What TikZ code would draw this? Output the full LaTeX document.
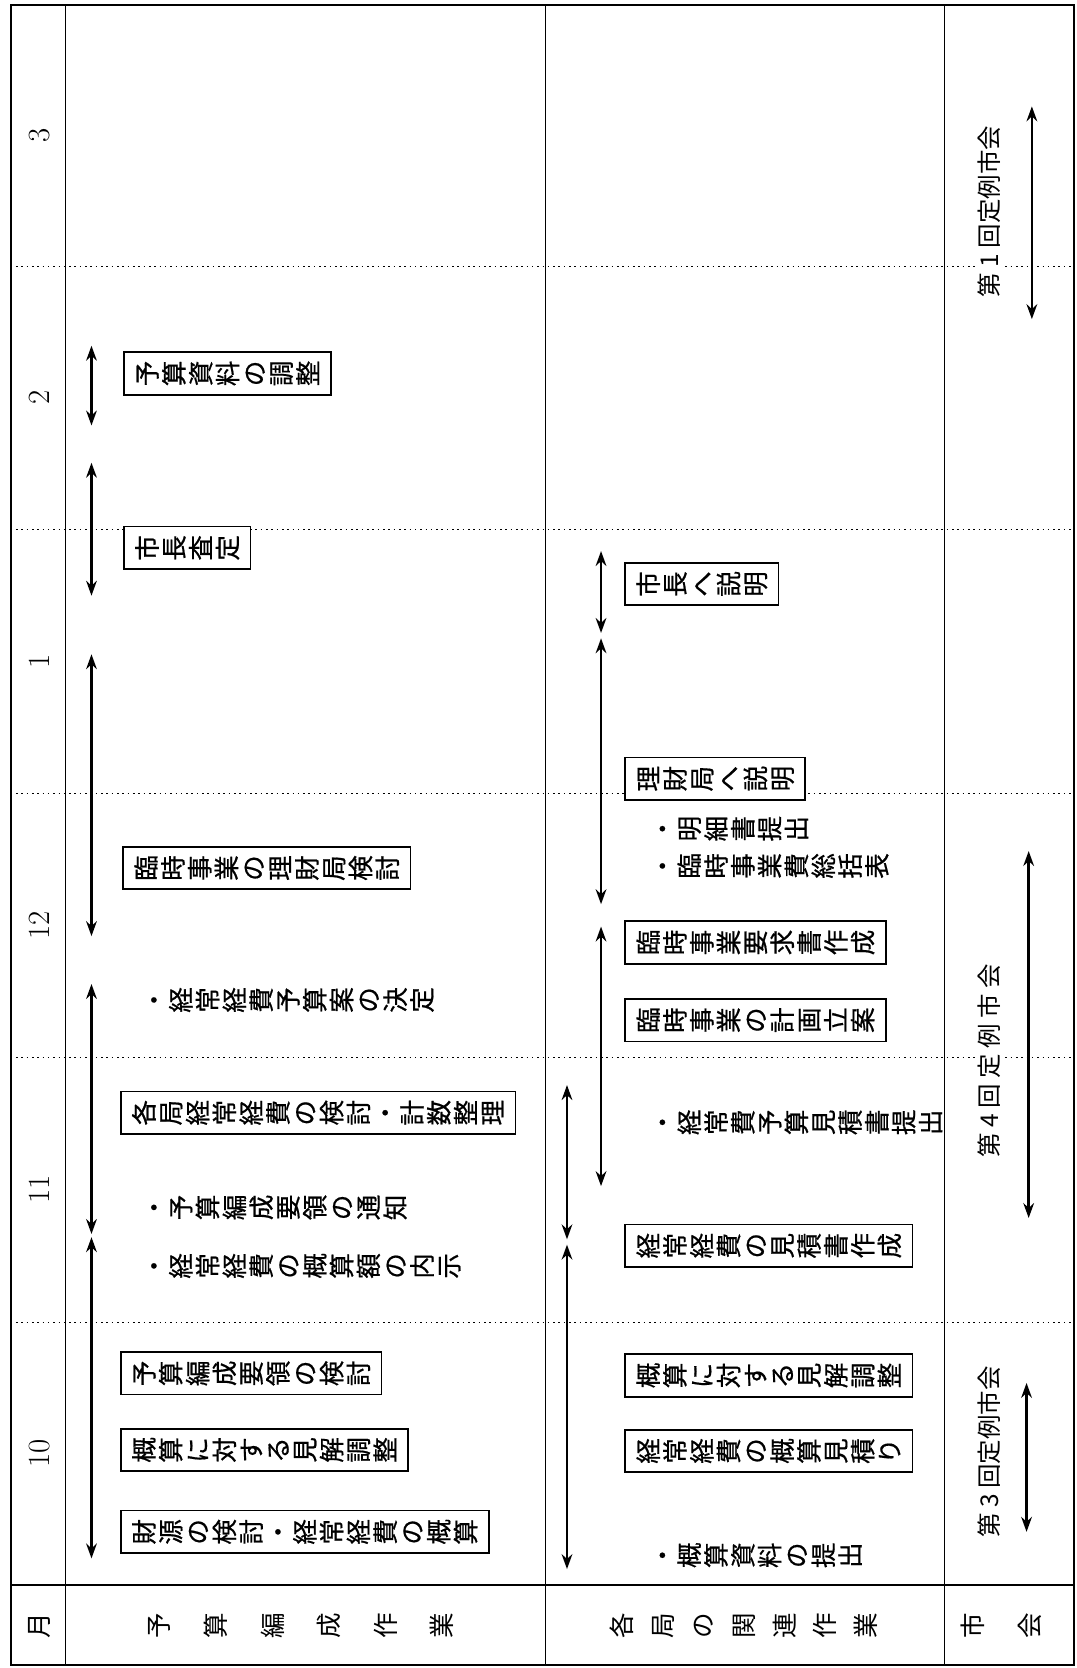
\documentclass[tikz,border=0pt]{standalone}
\usepackage{fontspec}
\usepackage{graphicx}
\usetikzlibrary{arrows.meta}
\newfontfamily\jpfont[FakeBold=0.6]{Noto Sans CJK JP}
\newfontfamily\jpthin{Noto Sans CJK JP}

% one character turned a quarter to the left
\newcommand{\tchar}[1]{\rotatebox{90}{\makebox[1em]{\raisebox{0pt}[0.9em][0.15em]{#1}}}}
% a row of turned characters, optional gap between them
\newcommand{\tate}[2][0pt]{\def\tgap{\hspace{#1}}\let\tsep\relax\tloop#2\relax}
\def\tloop#1{\ifx\relax#1\else\tsep\tchar{#1}\let\tsep\tgap\expandafter\tloop\fi}

\begin{document}
\begin{tikzpicture}[x=1pt, y=-1pt,
  box/.style={draw, line width=1.6pt, fill=white, inner xsep=9pt, inner ysep=8pt,
    anchor=west, font=\jpfont\fontsize{24}{28}\selectfont},
  note/.style={inner sep=0pt, anchor=west, font=\jpfont\fontsize{24}{28}\selectfont},
  head/.style={inner sep=0pt, anchor=west, font=\jpthin\fontsize{24}{28}\selectfont},
  month/.style={rotate=90, font=\fontsize{29}{32}\selectfont},
  council/.style={rotate=90, fill=white, inner sep=1pt, font=\jpthin\fontsize{23}{26}\selectfont},
  span/.style={line width=2.4pt, {Stealth[length=14pt,width=10pt]}-{Stealth[length=14pt,width=10pt]}},
  grid/.style={line width=0.8pt, dash pattern=on 1.5pt off 3.5pt}]
  \useasboundingbox (0,0) rectangle (1012,1568);

  % month rows
  \foreach \y in {250,498,746,994,1243}
    \draw[grid] (10,\y) -- (1010,\y);
  \draw[line width=2pt] (10,5) rectangle (1010,1565);
  \foreach \x in {62,513,888}
    \draw[line width=1pt] (\x,5) -- (\x,1565);
  \draw[line width=1.5pt] (10,1490) -- (1010,1490);

  \foreach \m/\y in {3/127, 2/374, 1/622, 12/870, 11/1118, 10/1366}
    \node[month] (month\m) at (37,\y) {\m};

  % header row
  \node[head, anchor=center] (hmonth) at (37,1528) {\tchar{月}};
  \node[head] (hbudget) at (137,1528) {\tate[28pt]{予算編成作業}};
  \node[head] (hbureau) at (572,1528) {\tate[13pt]{各局の関連作業}};
  \node[head] (hcouncil) at (902,1528) {\tate[28pt]{市会}};

  % spans: name / x / top / bottom
  \foreach \n/\x/\ya/\yb in {b1/86/325/400, b2/86/435/560, b3/86/615/880,
      b4/86/925/1160, b5/86/1163/1465,
      a1/565/518/595, a2/565/600/850, a3/565/871/1115,
      a4/533/1020/1165, a5/533/1170/1475,
      c1/970/100/300, c2/967/800/1145, c3/965/1300/1440} {
    \coordinate (\n top) at (\x,\ya);
    \coordinate (\n bot) at (\x,\yb);
    \draw[span] (\n top) -- (\n bot);
  }

  % budget work
  \node[box] (adjust) at (116,351) {\tate{予算資料の調整}};
  \node[box] (mayor) at (116,515) {\tate{市長査定}};
  \node[box] (extra) at (115,816) {\tate{臨時事業の理財局検討}};
  \node[note] (decide) at (132,940) {\tate{・経常経費予算案の決定}};
  \node[box] (review) at (113,1046) {\tate{各局経常経費の検討・計数整理}};
  \node[note] (notice) at (132,1135) {\tate{・予算編成要領の通知}};
  \node[note] (quota) at (132,1190) {\tate{・経常経費の概算額の内示}};
  \node[box] (rules) at (113,1291) {\tate{予算編成要領の検討}};
  \node[box] (views) at (113,1363) {\tate{概算に対する見解調整}};
  \node[box] (funds) at (113,1440) {\tate{財源の検討・経常経費の概算}};

  % bureau work
  \node[box] (tomayor) at (587,549) {\tate{市長へ説明}};
  \node[box] (tofin) at (587,732) {\tate{理財局へ説明}};
  \node[note] (detail) at (610,779) {\tate{・明細書提出}};
  \node[note] (summary) at (610,814) {\tate{・臨時事業費総括表}};
  \node[box] (request) at (587,886) {\tate{臨時事業要求書作成}};
  \node[box] (plan) at (587,959) {\tate{臨時事業の計画立案}};
  \node[note] (submit) at (610,1055) {\tate{・経常費予算見積書提出}};
  \node[box] (estimate) at (587,1171) {\tate{経常経費の見積書作成}};
  \node[box] (views2) at (587,1293) {\tate{概算に対する見解調整}};
  \node[box] (rough) at (587,1364) {\tate{経常経費の概算見積り}};
  \node[note] (data) at (610,1462) {\tate{・概算資料の提出}};

  % council sessions
  \node[council] (first) at (930,199) {第 1 回定例市会};
  \node[council] (fourth) at (930,997) {第 4 回 定 例 市 会};
  \node[council] (third) at (930,1365) {第 3 回定例市会};
\end{tikzpicture}
\end{document}
